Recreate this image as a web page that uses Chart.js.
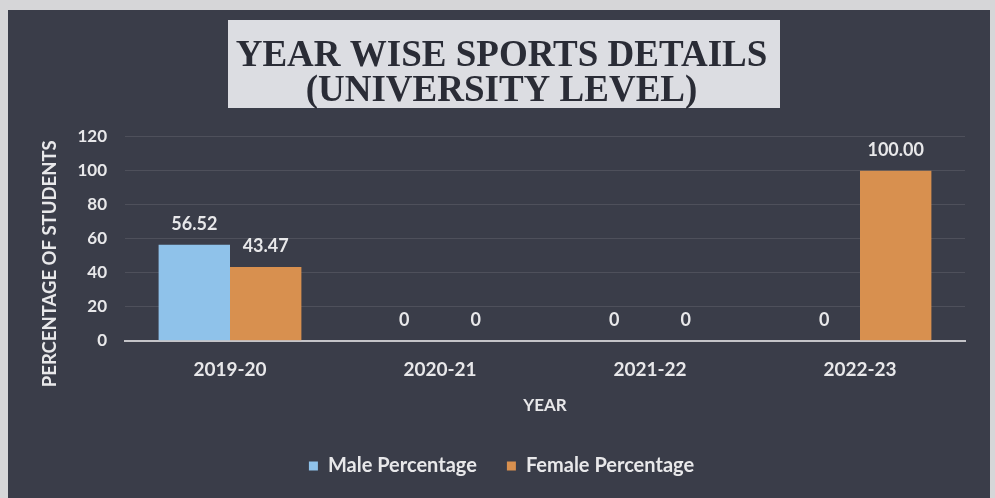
<!DOCTYPE html>
<html>
<head>
<meta charset="utf-8">
<script src="https://cdn.jsdelivr.net/npm/chart.js@4.4.1/dist/chart.umd.min.js"></script>
<style>
  html, body { margin: 0; padding: 0; background: #d6d6d8; }
  #wrap { position: absolute; left: 8px; top: 10px; width: 982px; height: 488px; background: #3a3d49; }
</style>
</head>
<body>
<div id="wrap"><canvas id="sportsChart"></canvas></div>
<script>
const years = ["2019-20", "2020-21", "2021-22", "2022-23"];
const maleValues = [56.52, 0, 0, 0];
const femaleValues = [43.47, 0, 0, 100];
const maleLabels = ["56.52", "0", "0", "0"];
const femaleLabels = ["43.47", "0", "0", "100.00"];
const yTicks = [0, 20, 40, 60, 80, 100, 120];
const yTitle = "PERCENTAGE OF STUDENTS";

const textColor = "#e8e8ea";
const uiFont = "Lato, 'Open Sans', sans-serif";

// white box behind the title
const titleBox = {
  id: "titleBox",
  beforeDraw(chart) {
    const ctx = chart.ctx;
    const tb = chart.titleBlock;
    const cx = chart.width / 2 + 5;
    ctx.save();
    ctx.fillStyle = "#dcdde2";
    ctx.fillRect(cx - 276, tb.top + 2, 552, 88);
    ctx.restore();
  }
};

// value labels above each bar + y axis title (sits a bit lower than centre in the original)
const barLabels = {
  id: "barLabels",
  afterDatasetsDraw(chart) {
    const ctx = chart.ctx;
    ctx.save();
    ctx.fillStyle = textColor;
    ctx.font = "bold 18px " + uiFont;
    ctx.textAlign = "center";
    ctx.textBaseline = "bottom";
    const texts = [maleLabels, femaleLabels];
    chart.data.datasets.forEach((ds, i) => {
      chart.getDatasetMeta(i).data.forEach((bar, j) => {
        ctx.fillText(texts[i][j], bar.x, bar.y - 12);
      });
    });
    const area = chart.chartArea;
    ctx.translate(42, (area.top + area.bottom) / 2 + 25);
    ctx.rotate(-Math.PI / 2);
    ctx.textBaseline = "middle";
    ctx.font = "bold 18.5px " + uiFont;
    ctx.fillText(yTitle, 0, 0);
    ctx.restore();
  }
};

new Chart(document.getElementById("sportsChart"), {
  type: "bar",
  data: {
    labels: years,
    datasets: [
      {
        label: "Male Percentage",
        data: maleValues,
        backgroundColor: "#8fc2ea",
        borderWidth: 0,
        categoryPercentage: 0.68,
        barPercentage: 1
      },
      {
        label: "Female Percentage",
        data: femaleValues,
        backgroundColor: "#d8904f",
        borderWidth: 0,
        categoryPercentage: 0.68,
        barPercentage: 1
      }
    ]
  },
  options: {
    responsive: true,
    maintainAspectRatio: false,
    animation: false,
    layout: { padding: { left: 30, right: 25, top: 8, bottom: 12 } },
    plugins: {
      title: {
        display: true,
        text: ["YEAR WISE SPORTS DETAILS", "(UNIVERSITY LEVEL)"],
        color: "#2a2c36",
        font: { family: "'Liberation Serif', serif", size: 37, weight: "bold", lineHeight: 0.97 },
        padding: { top: 20, bottom: 27 }
      },
      legend: {
        position: "bottom",
        labels: {
          color: textColor,
          boxWidth: 9,
          boxHeight: 9,
          padding: 30,
          font: { family: uiFont, size: 20, weight: "bold" }
        }
      },
      tooltip: { enabled: false }
    },
    scales: {
      x: {
        grid: { display: false },
        border: { color: "#c4c4c8", width: 2 },
        ticks: { color: textColor, font: { family: uiFont, size: 19, weight: "bold" }, padding: 10 },
        title: { display: true, text: "YEAR", color: textColor, font: { family: uiFont, size: 17, weight: "bold" }, padding: { top: 4, bottom: 10 } }
      },
      y: {
        min: 0,
        max: 120,
        afterBuildTicks(scale) { scale.ticks = yTicks.map((v) => ({ value: v })); },
        grid: { color: "rgba(255,255,255,0.10)", drawTicks: false },
        border: { display: false },
        ticks: { color: textColor, font: { family: uiFont, size: 17, weight: "bold" }, padding: 18 },
        afterFit(scale) { scale.width = 87; }
      }
    }
  },
  plugins: [titleBox, barLabels]
});
</script>
</body>
</html>
